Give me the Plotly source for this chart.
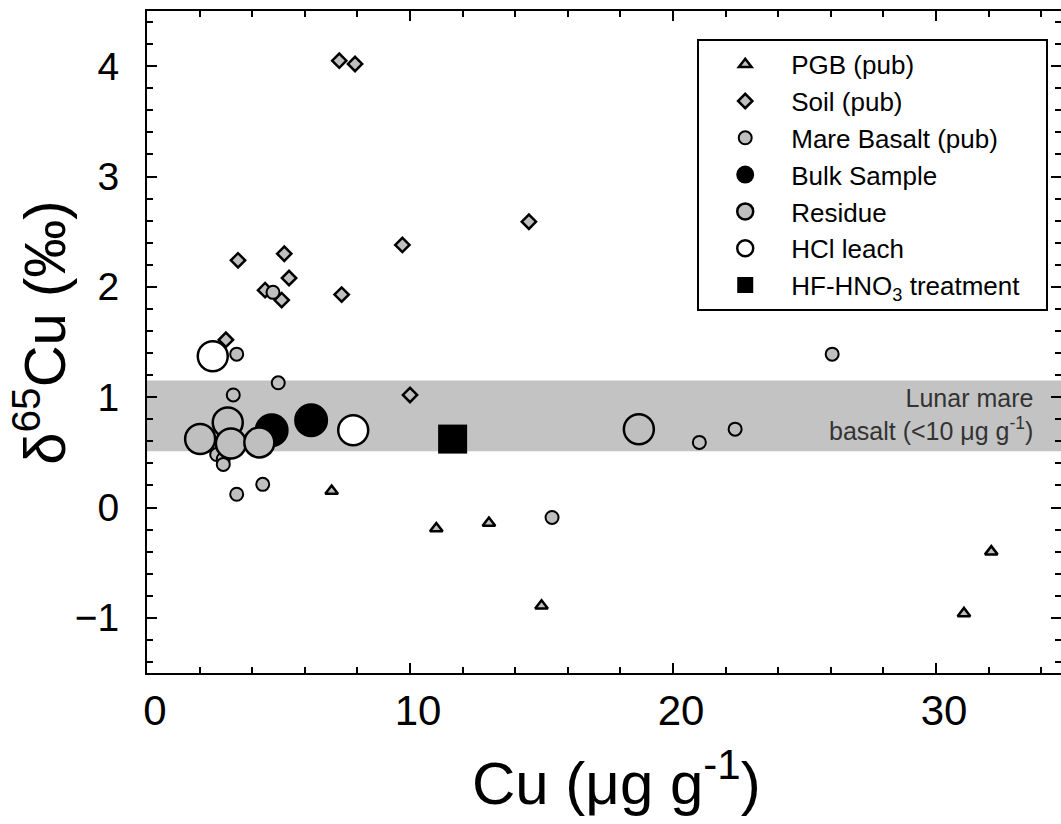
import plotly.graph_objects as go

# ---- data ----
pgb_cu = [7.02, 11.0, 13.0, 15.0, 31.06, 32.1]
pgb_d65 = [0.15, -0.19, -0.14, -0.89, -0.96, -0.40]

soil_cu = [7.31, 7.91, 14.52, 9.71, 5.22, 5.40, 5.12, 7.40, 3.46, 4.49, 3.0, 10.0]
soil_d65 = [4.05, 4.02, 2.59, 2.38, 2.30, 2.08, 1.88, 1.93, 2.24, 1.97, 1.52, 1.02]

mare_cu = [3.41, 4.99, 3.28, 3.41, 4.40, 2.65, 2.90, 2.90, 4.79, 26.05, 21.0, 22.36, 15.4]
mare_d65 = [1.39, 1.13, 1.02, 0.12, 0.21, 0.48, 0.44, 0.39, 1.95, 1.39, 0.59, 0.71, -0.09]

bulk_cu = [4.74, 6.24]
bulk_d65 = [0.70, 0.79]

residue_cu = [2.02, 3.07, 3.19, 4.27, 18.7]
residue_d65 = [0.62, 0.77, 0.58, 0.59, 0.71]

hcl_cu = [2.50, 7.84]
hcl_d65 = [1.37, 0.70]

hf_cu = [11.62]
hf_d65 = [0.62]

band_low, band_high = 0.51, 1.15

x_range = [0, 34.75]
y_range = [-1.5, 4.5]

GRAY = "#bfbfbf"
FONT = "Arial, Liberation Sans, sans-serif"

fig = go.Figure()

def add(x, y, name, symbol, size, fill, lw, rank):
    fig.add_trace(go.Scatter(
        x=x, y=y, mode="markers", name=name, legendrank=rank,
        marker=dict(symbol=symbol, size=size, color=fill,
                    line=dict(color="black", width=lw)),
    ))

add(hcl_cu, hcl_d65, "HCl leach", "circle", 30, "white", 2.5, 6)
add(pgb_cu, pgb_d65, "PGB (pub)", "triangle-up", 11, GRAY, 2.5, 1)
add(soil_cu, soil_d65, "Soil (pub)", "diamond", 11, GRAY, 2.5, 2)
add(mare_cu, mare_d65, "Mare Basalt (pub)", "circle", 13, GRAY, 2, 3)
add(bulk_cu, bulk_d65, "Bulk Sample", "circle", 32, "black", 2, 4)
add(residue_cu, residue_d65, "Residue", "circle", 30, GRAY, 2.5, 5)
add(hf_cu, hf_d65, "HF-HNO<sub>3</sub> treatment\u00a0\u00a0\u00a0", "square", 29, "black", 0, 7)

fig.add_shape(type="rect", xref="paper", yref="y", x0=0, x1=1,
              y0=band_low, y1=band_high, fillcolor="#c3c3c3",
              line=dict(width=0), layer="below")

fig.add_annotation(xref="paper", yref="y", x=0.9716, y=0.84,
                   xanchor="right", yanchor="middle", align="right", showarrow=False,
                   text="Lunar mare<br>basalt (&lt;10 \u03bcg g<sup>-1</sup>)",
                   font=dict(family=FONT, size=25, color="#333333"))

# axis titles
fig.add_annotation(xref="paper", yref="paper", x=0.514, y=-0.160,
                   xanchor="center", yanchor="middle", showarrow=False,
                   text="Cu (\u03bcg g<sup>-1</sup>)",
                   font=dict(family=FONT, size=60, color="black"))
fig.add_annotation(xref="paper", yref="paper", x=-0.117, y=0.514,
                   xanchor="center", yanchor="middle", showarrow=False, textangle=-90,
                   text="\u03b4<sup>65</sup>Cu (\u2030)",
                   font=dict(family=FONT, size=58, color="black"))

axis_common = dict(showline=True, linecolor="black", linewidth=2, mirror="ticks",
                   ticks="inside", ticklen=10, tickwidth=2, tickcolor="black",
                   showgrid=False, zeroline=False, automargin=False)

fig.update_xaxes(range=x_range, dtick=10, tick0=0,
                 minor=dict(ticks="inside", ticklen=6, tickwidth=2, dtick=2, tickcolor="black"),
                 tickfont=dict(family=FONT, size=42, color="black"),
                 ticklabelstandoff=0, ticklabelshift=8, **axis_common)
fig.update_yaxes(range=y_range, dtick=1, tick0=0,
                 minor=dict(ticks="inside", ticklen=6, tickwidth=2, dtick=0.2, tickcolor="black"),
                 tickfont=dict(family=FONT, size=39, color="black"),
                 ticklabelstandoff=18, **axis_common)

fig.update_layout(
    width=1061, height=824,
    margin=dict(l=147, r=0, t=11, b=151, autoexpand=False),
    plot_bgcolor="white", paper_bgcolor="white",
    font=dict(family=FONT, color="black"),
    showlegend=True,
    legend=dict(x=0.602, y=0.958, xanchor="left", yanchor="top",
                bgcolor="white", bordercolor="black", borderwidth=2,
                font=dict(family=FONT, size=26, color="black"),
                itemsizing="trace", tracegroupgap=0, itemwidth=82),
)

fig.write_html("out.html", config={"displayModeBar": False},
               post_script="document.body.style.margin='0';document.body.style.overflow='hidden';")
